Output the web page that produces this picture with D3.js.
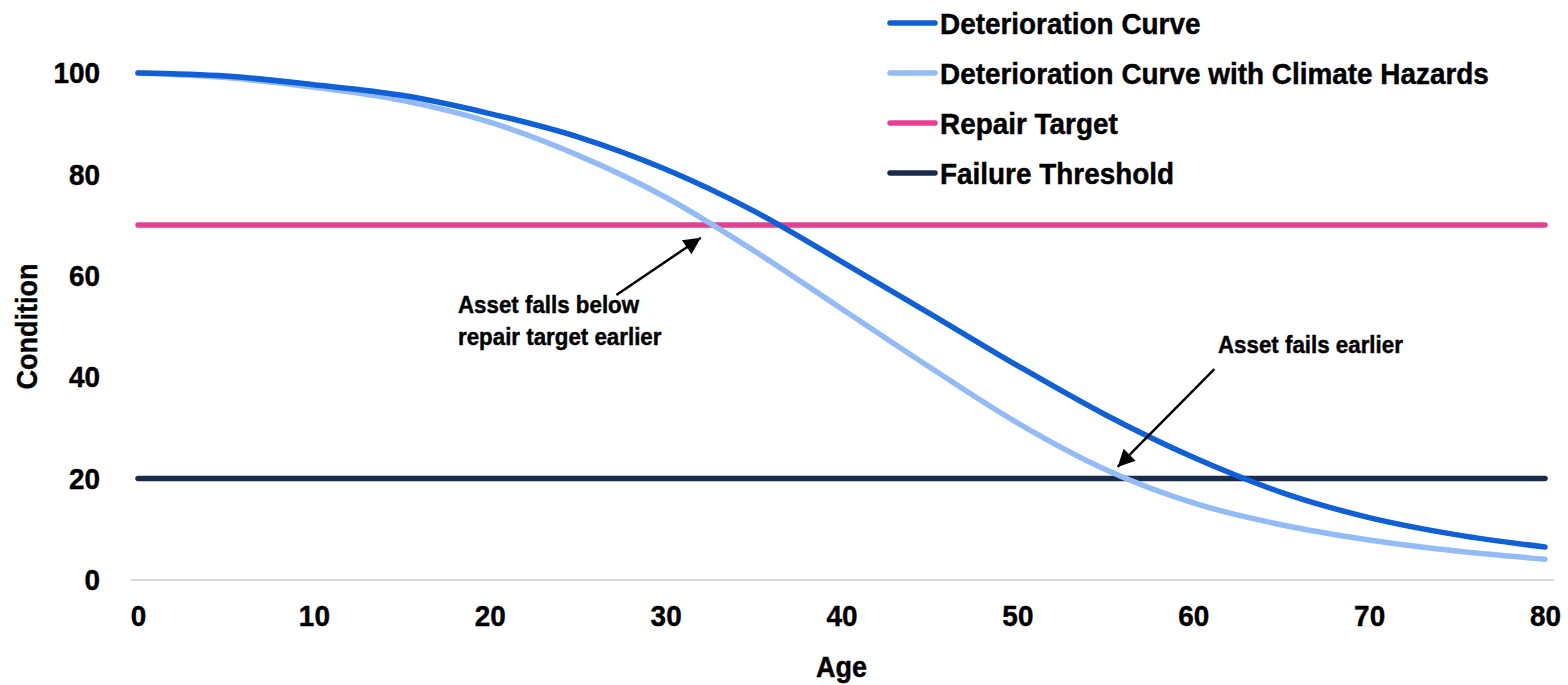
<!DOCTYPE html>
<html>
<head>
<meta charset="utf-8">
<script src="https://cdn.jsdelivr.net/npm/d3@7"></script>
<style>
  html, body { margin: 0; padding: 0; background: #fff; }
  svg { display: block; }
  text { font-family: "Liberation Sans", Arial, sans-serif; font-weight: bold; fill: #000; stroke: #000; stroke-width: 0.45px; }
</style>
</head>
<body>
<svg id="chart" width="1568" height="685"></svg>
<script>
// Asset age (years)
const ages = [0, 5, 10, 15, 20, 25, 30, 35, 40, 45, 50, 55, 60, 65, 70, 75, 80];
// Condition index along the baseline deterioration curve
const deterioration = [100, 99.4, 97.7, 95.6, 92.0, 87.4, 81.0, 72.8, 62.8, 52.6, 42.3, 32.6, 24.2, 17.3, 12.3, 8.9, 6.5];
// Condition index when climate hazards accelerate deterioration
const deteriorationClimate = [100, 99.1, 97.2, 94.6, 90.3, 83.8, 75.5, 65.0, 53.5, 42.0, 31.0, 21.8, 15.2, 10.9, 7.9, 5.7, 4.1];
// Threshold levels
const repairTarget = 70;
const failureThreshold = 20;

const xTicks = [0, 10, 20, 30, 40, 50, 60, 70, 80];
const yTicks = [0, 20, 40, 60, 80, 100];

const seriesNames = ["Deterioration Curve", "Deterioration Curve with Climate Hazards", "Repair Target", "Failure Threshold"];
const seriesColors = ["#0f5fd6", "#93bbf6", "#e63f91", "#1b2b4b"];

// Callouts: arrow from `from` to `tip` (age, condition)
const annotations = [
  { lines: ["Asset falls below", "repair target earlier"], tip: [32.0, 67.5], from: [27.2, 56.2] },
  { lines: ["Asset fails earlier"], tip: [55.7, 22.3], from: [61.2, 41.6] }
];

// Narrow bold face: squeeze each text run horizontally
const NARROW = 0.93;
function condense(sel) {
  sel.each(function () {
    const w = this.getComputedTextLength();
    this.setAttribute("textLength", (w * NARROW).toFixed(2));
    this.setAttribute("lengthAdjust", "spacingAndGlyphs");
  });
}

const svg = d3.select("#chart");
const x = d3.scaleLinear().domain([0, 80]).range([138, 1545]);
const y = d3.scaleLinear().domain([0, 100]).range([580, 73]);

// Baseline axis line
svg.append("line")
  .attr("x1", x(0) - 7).attr("x2", x(80) + 9)
  .attr("y1", y(0)).attr("y2", y(0))
  .attr("stroke", "#d9d9d9").attr("stroke-width", 2);

// X axis labels
const xAxis = svg.append("g")
  .attr("transform", `translate(0,${y(0)})`)
  .call(d3.axisBottom(x).tickValues(xTicks).tickSize(0).tickPadding(25).tickFormat(d3.format("d")));
xAxis.select(".domain").remove();
xAxis.selectAll("text").style("font-size", "30px").attr("font-family", null).call(condense);

// Y axis labels
const yAxis = svg.append("g")
  .attr("transform", `translate(${x(0) - 38},0)`)
  .call(d3.axisLeft(y).tickValues(yTicks).tickSize(0).tickPadding(0).tickFormat(d3.format("d")));
yAxis.select(".domain").remove();
yAxis.selectAll("text").style("font-size", "30px").attr("font-family", null).call(condense);

// Axis titles
svg.append("text")
  .attr("x", x(40)).attr("y", 677)
  .attr("text-anchor", "middle")
  .style("font-size", "29px")
  .text("Age")
  .call(condense);
svg.append("text")
  .attr("transform", `translate(37,${y(50)}) rotate(-90)`)
  .attr("text-anchor", "middle")
  .style("font-size", "29px")
  .text("Condition")
  .call(condense);

// Lines
const line = d3.line()
  .x(d => x(d[0]))
  .y(d => y(d[1]))
  .curve(d3.curveMonotoneX);

const seriesData = [
  ages.map((a, i) => [a, deterioration[i]]),
  ages.map((a, i) => [a, deteriorationClimate[i]]),
  ages.map(a => [a, repairTarget]),
  ages.map(a => [a, failureThreshold])
];

// thresholds drawn first, then curves on top
const drawOrder = [2, 3, 1, 0];
svg.append("g").selectAll("path")
  .data(drawOrder)
  .join("path")
  .attr("d", i => line(seriesData[i]))
  .attr("fill", "none")
  .attr("stroke", i => seriesColors[i])
  .attr("stroke-width", 5.5)
  .attr("stroke-linecap", "round")
  .attr("stroke-linejoin", "round");

// Legend
const legend = svg.append("g").attr("transform", "translate(890,23)");
const items = legend.selectAll("g")
  .data(seriesNames)
  .join("g")
  .attr("transform", (d, i) => `translate(0,${i * 50})`);
items.append("line")
  .attr("x1", 0).attr("x2", 45)
  .attr("stroke", (d, i) => seriesColors[i])
  .attr("stroke-width", 5.5)
  .attr("stroke-linecap", "round");
items.append("text")
  .attr("x", 50)
  .attr("dy", "0.36em")
  .style("font-size", "30px")
  .text(d => d)
  .call(condense);

// Arrow marker
svg.append("defs").append("marker")
  .attr("id", "arrowhead")
  .attr("viewBox", "0 0 10 10")
  .attr("refX", 10).attr("refY", 5)
  .attr("markerWidth", 20).attr("markerHeight", 17)
  .attr("markerUnits", "userSpaceOnUse")
  .attr("orient", "auto")
  .append("path")
  .attr("d", "M0,0 L10,5 L0,10 Z")
  .attr("fill", "#000");

// Annotations
const ann = svg.append("g");
ann.selectAll("line")
  .data(annotations)
  .join("line")
  .attr("x1", d => x(d.from[0])).attr("y1", d => y(d.from[1]))
  .attr("x2", d => x(d.tip[0])).attr("y2", d => y(d.tip[1]))
  .attr("stroke", "#000").attr("stroke-width", 2.5)
  .attr("marker-end", "url(#arrowhead)");

// Annotation labels
const label1 = ann.append("text")
  .attr("x", 458).attr("y", 313)
  .style("font-size", "24px");
label1.selectAll("tspan")
  .data(annotations[0].lines)
  .join("tspan")
  .attr("x", 458)
  .attr("dy", (d, i) => i === 0 ? 0 : 32)
  .text(d => d)
  .call(condense);

ann.append("text")
  .attr("x", 1218).attr("y", 353)
  .style("font-size", "24px")
  .text(annotations[1].lines[0])
  .call(condense);
</script>
</body>
</html>
